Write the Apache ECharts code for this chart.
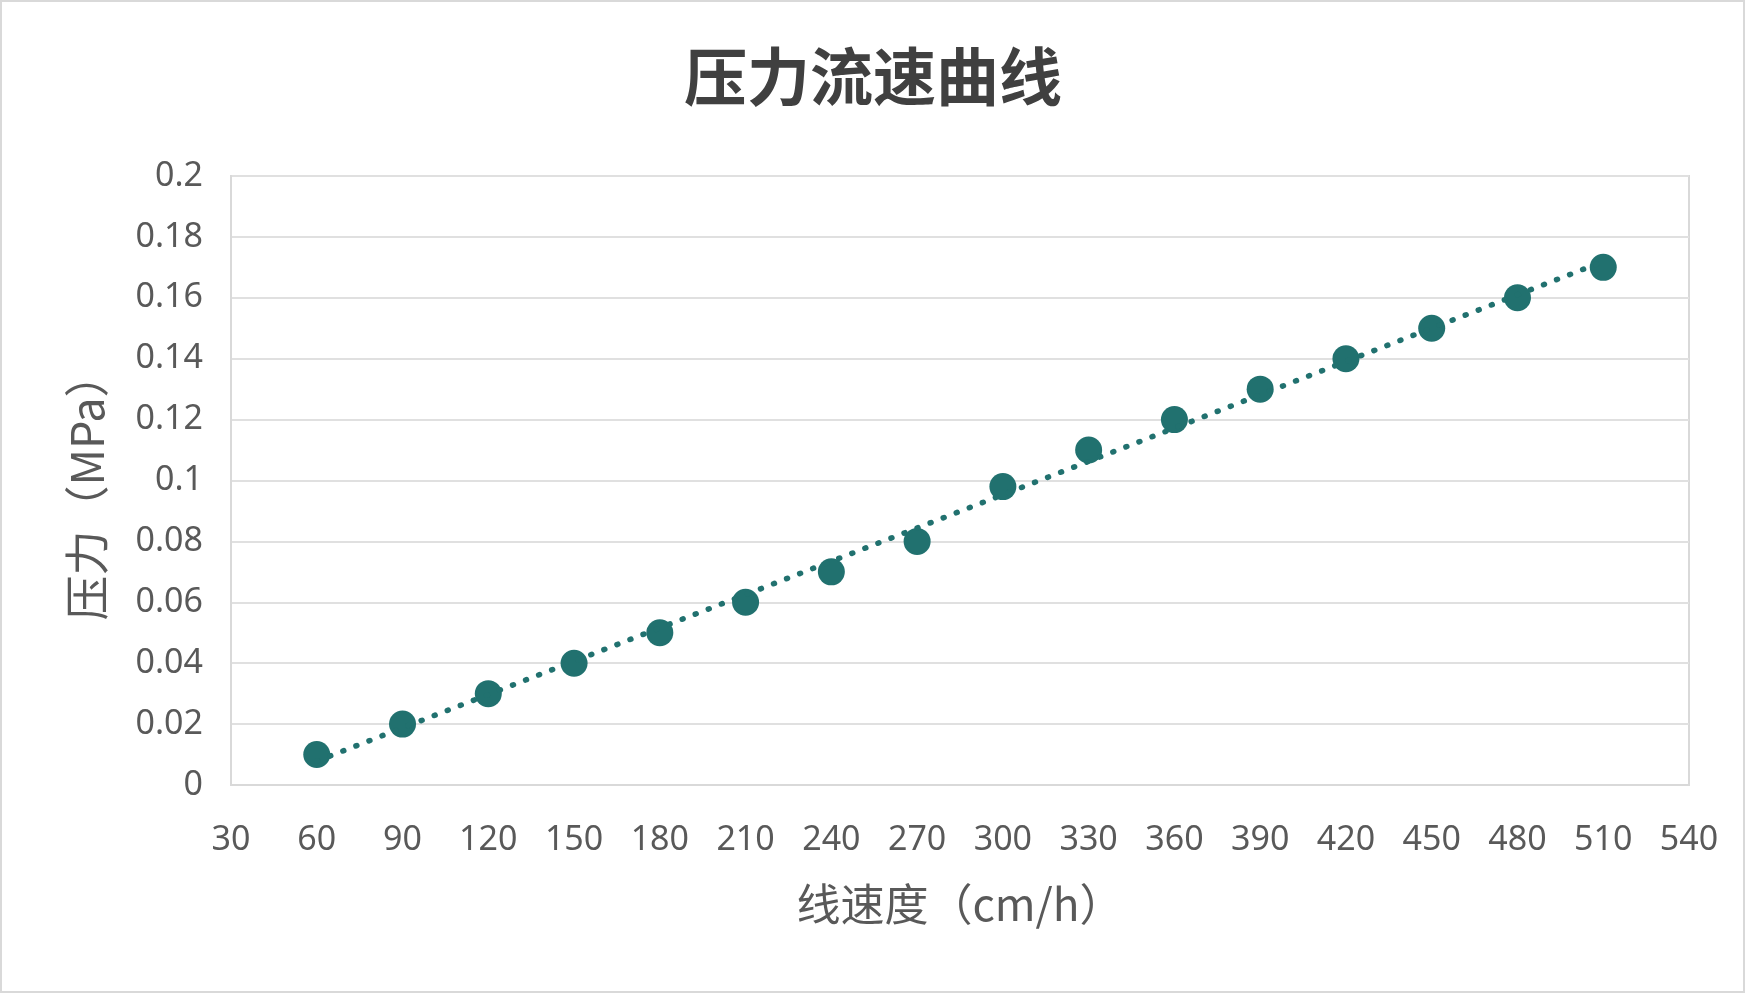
<!DOCTYPE html>
<html><head><meta charset="utf-8">
<script src="https://cdn.jsdelivr.net/npm/echarts@6/dist/echarts.min.js"></script>
<style>html,body{margin:0;padding:0;background:#fff;}#c{width:1746px;height:994px;}</style>
</head><body><div id="c"></div>
<script>
const speeds = [60, 90, 120, 150, 180, 210, 240, 270, 300, 330, 360, 390, 420, 450, 480, 510];
const pressures = [0.01, 0.02, 0.03, 0.04, 0.05, 0.06, 0.07, 0.08, 0.098, 0.11, 0.12, 0.13, 0.14, 0.15, 0.16, 0.17];
const xTicks = {min: 30, max: 540, interval: 30};
const yTicks = {min: 0, max: 0.2, interval: 0.02};

const points = speeds.map((x, i) => [x, pressures[i]]);
// linear least-squares trendline derived from the data
const n = speeds.length;
const mx = speeds.reduce((a, b) => a + b, 0) / n;
const my = pressures.reduce((a, b) => a + b, 0) / n;
let sxy = 0, sxx = 0;
for (let i = 0; i < n; i++) { sxy += (speeds[i] - mx) * (pressures[i] - my); sxx += (speeds[i] - mx) ** 2; }
const slope = sxy / sxx, icpt = my - slope * mx;
const x0 = speeds[0], x1 = speeds[n - 1];
const trend = [[x0, icpt + slope * x0], [x1, icpt + slope * x1]];

const color = '#21716F';
const chart = echarts.init(document.getElementById('c'));
chart.setOption({
  backgroundColor: '#fff',
  animation: false,
  graphic: [{type: 'rect', shape: {x: 1, y: 1, width: 1743, height: 991}, style: {fill: 'none', stroke: '#d9d9d9', lineWidth: 2}, silent: true}],
  title: {
    text: '压力流速曲线', left: 'center', top: 40,
    textStyle: {fontFamily: 'Noto Sans CJK SC', fontSize: 63, fontWeight: 'bold', color: '#404040'}
  },
  grid: {left: 231, right: 57, top: 176, bottom: 209, show: true, borderColor: '#d9d9d9', borderWidth: 2},
  xAxis: {
    type: 'value', min: xTicks.min, max: xTicks.max, interval: xTicks.interval,
    name: '线速度（cm/h）', nameLocation: 'middle', nameGap: 97,
    nameTextStyle: {fontFamily: 'Noto Sans CJK SC', fontSize: 44, color: '#595959', padding: [0, 0, 0, 0]},
    axisLine: {show: true, lineStyle: {color: '#d9d9d9', width: 2}},
    axisTick: {show: false},
    splitLine: {show: false},
    axisLabel: {fontFamily: 'Noto Sans', fontSize: 34, color: '#595959', margin: 38}
  },
  yAxis: {
    type: 'value', min: yTicks.min, max: yTicks.max, interval: yTicks.interval,
    name: '压力（MPa）', nameLocation: 'middle', nameGap: 122, nameRotate: 90,
    nameTextStyle: {fontFamily: 'Noto Sans CJK SC', fontSize: 45, color: '#595959', padding: [0, 12, 0, 0]},
    axisLine: {show: true, lineStyle: {color: '#d9d9d9', width: 2}},
    axisTick: {show: false},
    splitLine: {show: true, lineStyle: {color: '#e0e0e0', width: 2}},
    axisLabel: {fontFamily: 'Noto Sans', fontSize: 34, color: '#595959', margin: 28}
  },
  series: [
    {type: 'scatter', data: points, symbol: 'circle', symbolSize: 27, itemStyle: {color: color, opacity: 1}, z: 2},
    {type: 'line', data: trend, symbol: 'none', z: 3,
     lineStyle: {color: color, width: 5.5, type: [1, 13], cap: 'round'}}
  ]
});
</script></body></html>
